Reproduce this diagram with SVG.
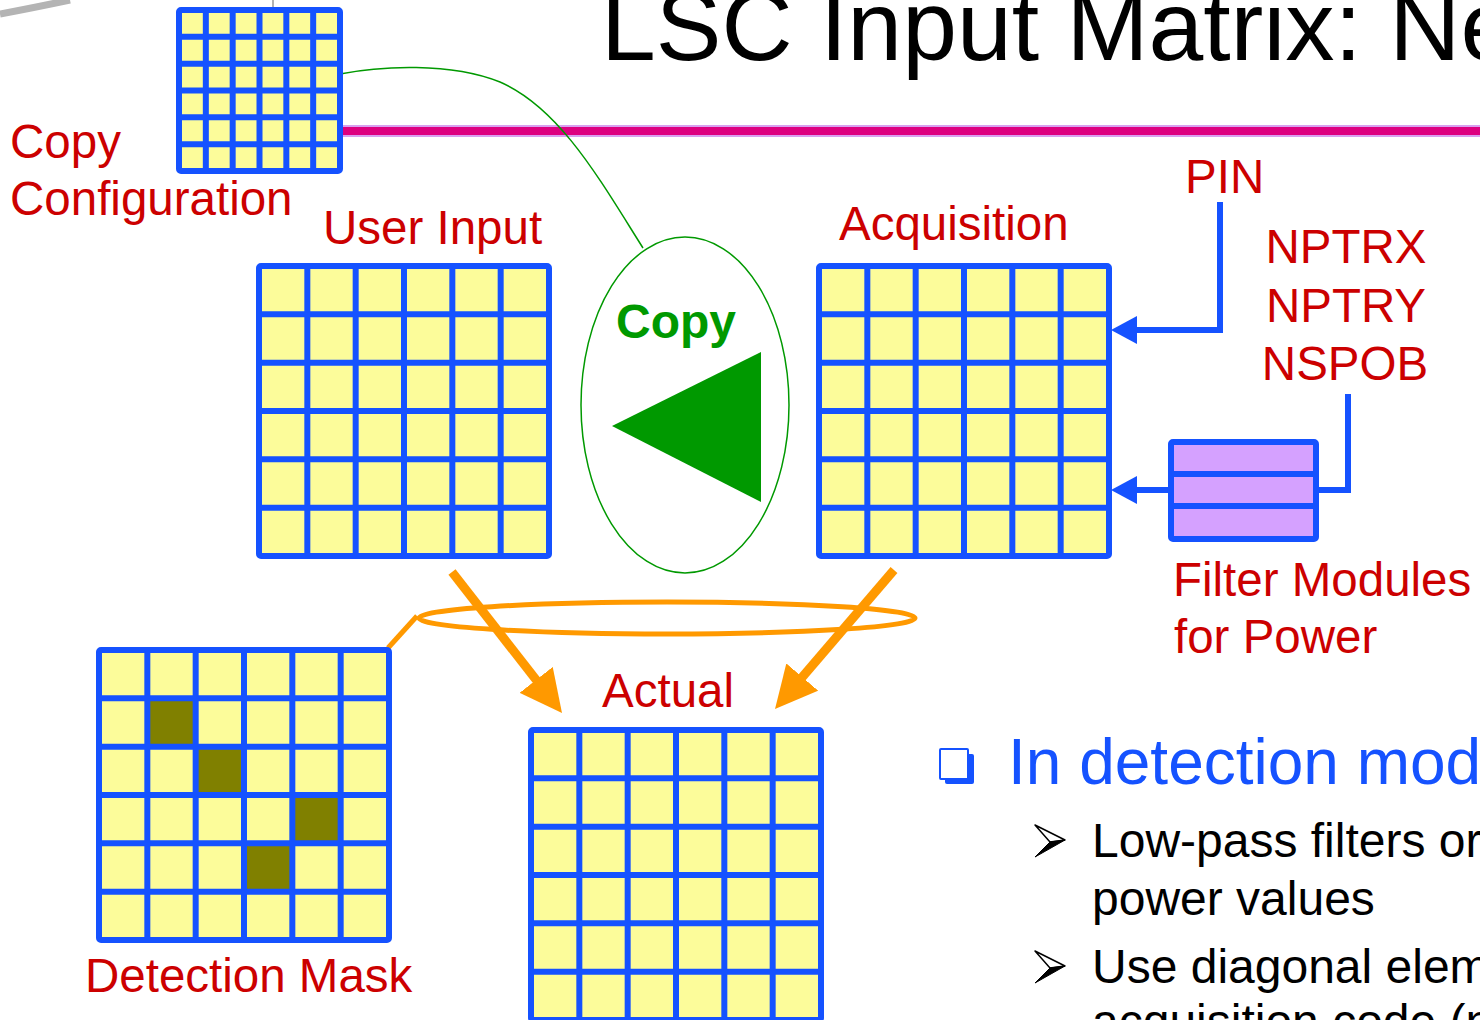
<svg xmlns="http://www.w3.org/2000/svg" width="1480" height="1020" viewBox="0 0 1480 1020">
<style>
.lbl{font-family:"Liberation Sans",Arial,sans-serif;font-size:47.5px;fill:#CC0000}
.gl{fill:none;stroke:#1552FF;stroke-width:6}
.cell{fill:#FCFC9A}
.dark{fill:#808000}
.blue{fill:none;stroke:#1552FF;stroke-width:6}
.org{fill:none;stroke:#FF9900;stroke-width:9}
.body{font-family:"Liberation Sans",Arial,sans-serif;font-size:48px;fill:#000}
</style>
<defs>
<g id="big-fill"><rect width="290" height="290" class="cell"/></g>
<g id="big-lines">
<path class="gl" d="M48.33,0V290M96.67,0V290M145,0V290M193.33,0V290M241.67,0V290M0,48.33H290M0,96.67H290M0,145H290M0,193.33H290M0,241.67H290"/>
<rect width="290" height="290" rx="2" class="gl"/>
</g>
<g id="small-grid">
<rect width="161" height="161" class="cell"/>
<path class="gl" d="M26.83,0V161M53.67,0V161M80.5,0V161M107.33,0V161M134.17,0V161M0,26.83H161M0,53.67H161M0,80.5H161M0,107.33H161M0,134.17H161"/>
<rect width="161" height="161" rx="2" class="gl"/>
</g>
<marker id="blueHead" markerUnits="userSpaceOnUse" viewBox="0 0 26 28" refX="12" refY="14" markerWidth="26" markerHeight="28" orient="auto">
<path d="M0,0L26,14L0,28z" fill="#1552FF"/>
</marker>
<marker id="orangeHead" markerUnits="userSpaceOnUse" viewBox="0 0 42 42" refX="22" refY="21" markerWidth="42" markerHeight="42" orient="auto">
<path d="M0,0L42,21L0,42z" fill="#FF9900"/>
</marker>
</defs>

<g id="decor">
<path d="M0,14 Q32,8 70,0" fill="none" stroke="#B4B4B4" stroke-width="7"/>
<line x1="273" y1="0" x2="273" y2="7" stroke="#999" stroke-width="1.5"/>
<line x1="343" y1="131" x2="1480" y2="131" stroke="#D8A0F0" stroke-width="12"/>
<line x1="343" y1="131" x2="1480" y2="131" stroke="#DD0080" stroke-width="8"/>
</g>

<g id="title">
<text x="601" y="60" font-family="'Liberation Sans',Arial,sans-serif" font-size="98.5" fill="#000">LSC Input Matrix: Ne</text>
</g>

<g id="connectors">
<path d="M340,74 C380,66 450,62 500,82 C560,108 600,180 643,248" fill="none" stroke="#009900" stroke-width="1.5"/>
<polyline class="blue" points="1220,202 1220,330 1125,330" marker-end="url(#blueHead)"/>
<polyline class="blue" points="1348,394 1348,490 1318,490"/>
<line class="blue" x1="1168" y1="490" x2="1125" y2="490" marker-end="url(#blueHead)"/>
<ellipse cx="667" cy="618" rx="248" ry="16" fill="none" stroke="#FF9900" stroke-width="5"/>
<line x1="417" y1="616" x2="388" y2="648" stroke="#FF9900" stroke-width="5"/>
<line class="org" x1="452" y1="572" x2="549.7" y2="697.2" marker-end="url(#orangeHead)"/>
<line class="org" x1="894" y1="570" x2="788" y2="693.8" marker-end="url(#orangeHead)"/>
</g>

<g id="node-copy-config">
<use href="#small-grid" x="179" y="10"/>
<text class="lbl" x="10" y="158">Copy</text>
<text class="lbl" x="10" y="215">Configuration</text>
</g>

<g id="node-user-input">
<use href="#big-fill" x="259" y="266"/>
<use href="#big-lines" x="259" y="266"/>
<text class="lbl" x="323" y="244">User Input</text>
</g>

<g id="node-acquisition">
<use href="#big-fill" x="819" y="266"/>
<use href="#big-lines" x="819" y="266"/>
<text class="lbl" x="839" y="240">Acquisition</text>
</g>

<g id="node-copy">
<ellipse cx="685" cy="405" rx="104" ry="168" fill="none" stroke="#009900" stroke-width="1.5"/>
<text x="616" y="338" font-family="'Liberation Sans',Arial,sans-serif" font-size="48" font-weight="bold" fill="#009900">Copy</text>
<polygon points="612,426 761,352 761,502" fill="#009900"/>
</g>

<g id="node-pin">
<text class="lbl" x="1185" y="193">PIN</text>
</g>

<g id="node-params">
<text class="lbl" x="1346" y="263" text-anchor="middle">NPTRX</text>
<text class="lbl" x="1346" y="321.5" text-anchor="middle">NPTRY</text>
<text class="lbl" x="1345" y="380" text-anchor="middle">NSPOB</text>
</g>

<g id="node-filter-modules">
<rect x="1171" y="442" width="145" height="97" rx="2" fill="#D5A1FF" stroke="#1552FF" stroke-width="6"/>
<path class="blue" d="M1171,474H1316M1171,506H1316"/>
<text class="lbl" x="1173" y="596">Filter Modules</text>
<text class="lbl" x="1174" y="653">for Power</text>
</g>

<g id="node-detection-mask">
<use href="#big-fill" x="99" y="650"/>
<rect class="dark" x="147.33" y="698.33" width="48.33" height="48.33"/>
<rect class="dark" x="195.67" y="746.67" width="48.33" height="48.33"/>
<rect class="dark" x="292.33" y="795" width="48.33" height="48.33"/>
<rect class="dark" x="244" y="843.33" width="48.33" height="48.33"/>
<use href="#big-lines" x="99" y="650"/>
<text class="lbl" x="85" y="992">Detection Mask</text>
</g>

<g id="node-actual">
<use href="#big-fill" x="531" y="730"/>
<use href="#big-lines" x="531" y="730"/>
<text class="lbl" x="602" y="707">Actual</text>
</g>

<g id="bullets">
<rect x="945" y="754" width="29" height="30" rx="2" fill="#1552FF"/>
<rect x="940" y="749" width="28" height="30" rx="1" fill="#fff" stroke="#1552FF" stroke-width="2"/>
<text x="1008" y="784" font-family="'Liberation Sans',Arial,sans-serif" font-size="64" fill="#1552FF">In detection mod</text>
<polygon points="1035,825 1065,840 1050,842" fill="#fff" stroke="#000" stroke-width="1.5" stroke-linejoin="round"/>
<polygon points="1050,842 1065,840 1035,857" fill="#000" stroke="#000" stroke-width="1"/>
<text class="body" x="1092" y="857">Low-pass filters or</text>
<text class="body" x="1092" y="915">power values</text>
<polygon points="1035,951 1065,966 1050,968" fill="#fff" stroke="#000" stroke-width="1.5" stroke-linejoin="round"/>
<polygon points="1050,968 1065,966 1035,983" fill="#000" stroke="#000" stroke-width="1"/>
<text class="body" x="1092" y="983">Use diagonal elem</text>
<text class="body" x="1092" y="1038">acquisition code (n</text>
</g>
</svg>
